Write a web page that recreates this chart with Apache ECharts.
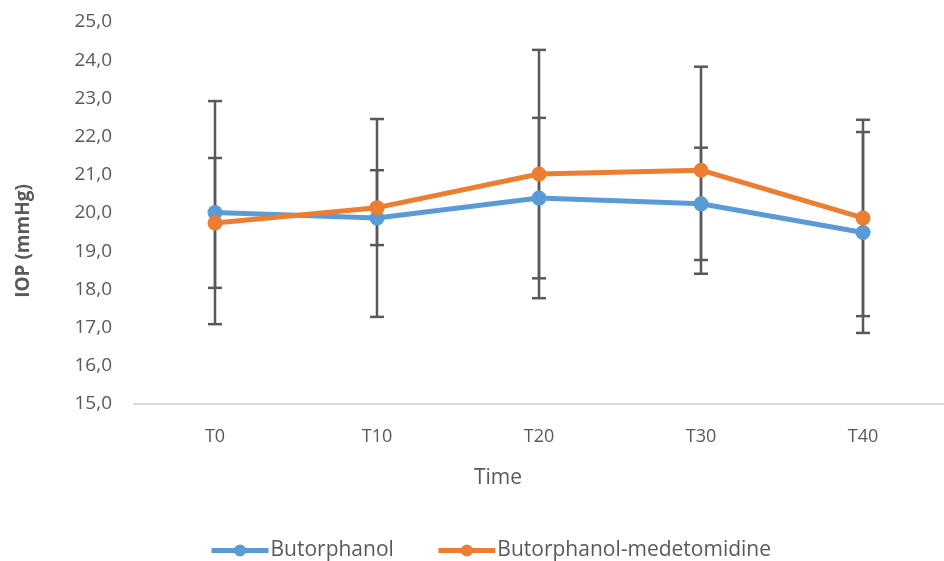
<!DOCTYPE html>
<html>
<head>
<meta charset="utf-8">
<script src="https://cdn.jsdelivr.net/npm/echarts@6/dist/echarts.min.js"></script>
<style>html,body{margin:0;padding:0;background:#fff}#c{width:944px;height:561px}</style>
</head>
<body>
<div id="c"></div>
<script>
var categories = ['T0', 'T10', 'T20', 'T30', 'T40'];
var butorphanol = [20.01, 19.87, 20.39, 20.24, 19.49];
var butorphanolErr = [2.92, 2.59, 2.10, 1.47, 2.63];
var butMed = [19.74, 20.14, 21.02, 21.12, 19.87];
var butMedErr = [1.70, 0.98, 3.25, 2.71, 2.57];
var yTicks = [15, 16, 17, 18, 19, 20, 21, 22, 23, 24, 25];

var FONT = '"Open Sans", "Noto Sans", sans-serif';
var TXT = '#595959';

function errData(means, errs) {
  return means.map(function (m, i) { return [i, m - errs[i], m + errs[i]]; });
}
function errRender(params, api) {
  var x = api.value(0);
  var lo = api.coord([x, api.value(1)]);
  var hi = api.coord([x, api.value(2)]);
  var hw = 7;
  var st = { stroke: '#595959', lineWidth: 2.5 };
  return {
    type: 'group',
    children: [
      { type: 'line', shape: { x1: lo[0], y1: lo[1], x2: hi[0], y2: hi[1] }, style: st },
      { type: 'line', shape: { x1: lo[0] - hw, y1: lo[1], x2: lo[0] + hw, y2: lo[1] }, style: st },
      { type: 'line', shape: { x1: hi[0] - hw, y1: hi[1], x2: hi[0] + hw, y2: hi[1] }, style: st }
    ]
  };
}

var chart = echarts.init(document.getElementById('c'));
chart.setOption({
  animation: false,
  backgroundColor: '#ffffff',
  grid: { left: 134, top: 22, width: 821, height: 382 },
  xAxis: {
    type: 'category',
    data: categories,
    boundaryGap: true,
    axisLine: { show: true, lineStyle: { color: '#d9d9d9', width: 2 } },
    axisTick: { show: false },
    axisLabel: { color: TXT, fontSize: 18, fontFamily: FONT, margin: 24 },
    splitLine: { show: false }
  },
  yAxis: {
    type: 'value',
    min: yTicks[0],
    max: yTicks[yTicks.length - 1],
    interval: 1,
    axisLine: { show: false },
    axisTick: { show: false },
    splitLine: { show: false },
    axisLabel: {
      color: TXT, fontSize: 19, fontFamily: FONT, margin: 22,
      formatter: function (v) { return v.toFixed(1).replace('.', ','); }
    }
  },
  legend: {
    top: 535,
    left: 204,
    itemWidth: 57,
    itemHeight: 15,
    itemGap: 42,
    lineStyle: { width: 5 },
    textStyle: { color: TXT, fontSize: 21, fontFamily: FONT, padding: [0, 0, 0, -3] },
    data: ['Butorphanol', 'Butorphanol-medetomidine']
  },
  graphic: [
    { type: 'text', x: 24, y: 241, rotation: Math.PI / 2, style: { text: 'IOP (mmHg)', font: 'bold 19px ' + FONT, fill: TXT, align: 'center', verticalAlign: 'middle' } },
    { type: 'text', x: 498, y: 478, style: { text: 'Time', font: '21px ' + FONT, fill: TXT, align: 'center', verticalAlign: 'middle' } }
  ],
  series: [
    { type: 'custom', name: 'errB', renderItem: errRender, data: errData(butorphanol, butorphanolErr), z: 1, silent: true },
    { type: 'custom', name: 'errBM', renderItem: errRender, data: errData(butMed, butMedErr), z: 1, silent: true },
    {
      name: 'Butorphanol', type: 'line', data: butorphanol, z: 3,
      symbol: 'circle', symbolSize: 15,
      itemStyle: { color: '#5B9BD5' },
      lineStyle: { color: '#5B9BD5', width: 5 }
    },
    {
      name: 'Butorphanol-medetomidine', type: 'line', data: butMed, z: 4,
      symbol: 'circle', symbolSize: 15,
      itemStyle: { color: '#ED7D31' },
      lineStyle: { color: '#ED7D31', width: 5 }
    }
  ]
});
</script>
</body>
</html>
